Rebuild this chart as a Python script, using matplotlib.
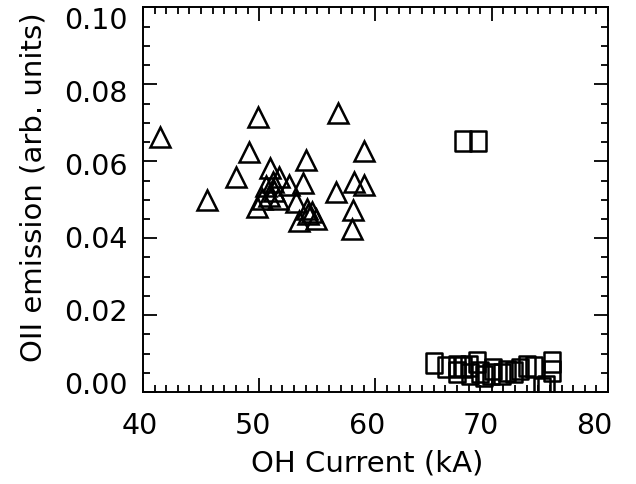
import matplotlib
matplotlib.use("Agg")
import matplotlib.pyplot as plt
import matplotlib.transforms as mtransforms
from matplotlib.path import Path
from matplotlib.ticker import MultipleLocator, FormatStrFormatter

plt.rcParams['font.family'] = ['DejaVu Sans']

# Triangles (one population)
tri_x = [41.46, 49.92, 56.75, 49.15, 59.04, 54.0, 48.0, 50.92, 51.7, 52.6,
         53.8, 45.5, 56.6, 58.15, 59.04, 58.1, 57.95, 49.8, 50.8, 51.2,
         50.6, 51.6, 53.2, 53.4, 54.1, 54.2, 54.9, 51.3, 50.2, 54.5]
tri_y = [0.0662, 0.0716, 0.0725, 0.0625, 0.0627, 0.0603, 0.0558, 0.0582, 0.0560, 0.0538,
         0.0543, 0.0499, 0.0521, 0.0547, 0.0538, 0.0474, 0.0425, 0.0482, 0.0510, 0.0545,
         0.0536, 0.0501, 0.0493, 0.0445, 0.0475, 0.0462, 0.0449, 0.0523, 0.0501, 0.0467]

# Squares (second population)
sq_x = [67.5, 68.8, 65.0, 67.0, 68.0, 68.7, 67.0, 69.0, 70.1, 71.3, 70.9, 69.9,
        73.0, 73.6, 75.2, 75.2, 74.7, 74.3, 66.1, 67.5, 68.1, 71.9, 72.4, 69.3]
sq_y = [0.0653, 0.0653, 0.0076, 0.0068, 0.0068, 0.0077, 0.0051, 0.0051, 0.0060, 0.0055,
        0.0047, 0.0047, 0.0068, 0.0064, 0.0077, 0.0055, 0.0016, 0.0010, 0.0064, 0.0064,
        0.0047, 0.0051, 0.0060, 0.0042]

xlabel = "OH Current (kA)"
ylabel = "OII emission (arb. units)"

fig = plt.figure(figsize=(6.36, 4.85), dpi=100)
ax = fig.add_axes([0.2248, 0.1897, 0.956 - 0.2248, 0.9825 - 0.1897])

rect = Path([(-0.4, -0.5), (0.4, -0.5), (0.4, 0.5), (-0.4, 0.5), (-0.4, -0.5)],
            [Path.MOVETO, Path.LINETO, Path.LINETO, Path.LINETO, Path.CLOSEPOLY])

ax.plot(tri_x, tri_y, linestyle='none', marker='^', markersize=14.0,
        markerfacecolor='none', markeredgecolor='black', markeredgewidth=1.8)
ax.plot(sq_x, sq_y, linestyle='none', marker=rect, markersize=14.5,
        markerfacecolor='none', markeredgecolor='black', markeredgewidth=1.8)

ax.set_xlim(40, 80)
ax.set_ylim(0.0, 0.10)
ax.xaxis.set_major_locator(MultipleLocator(10))
ax.xaxis.set_minor_locator(MultipleLocator(1))
ax.yaxis.set_major_locator(MultipleLocator(0.02))
ax.yaxis.set_minor_locator(MultipleLocator(0.005))
ax.yaxis.set_major_formatter(FormatStrFormatter('%.2f'))

ax.tick_params(which='both', direction='in', top=True, right=True, width=1.3,
               labelsize=20.5, colors='black')
ax.tick_params(axis='x', which='major', length=10, pad=14)
ax.tick_params(axis='y', which='major', length=10, pad=11)
ax.tick_params(which='minor', length=5)
for s in ax.spines.values():
    s.set_linewidth(1.4)

ax.set_xlabel(xlabel, fontsize=21)
ax.set_ylabel(ylabel, fontsize=21)
ax.xaxis.set_label_coords(0.482, -0.148)
ax.yaxis.set_label_coords(-0.205, 0.535)

# the reference's tick labels sit on a slightly compressed scale
fig.canvas.draw()
for t in ax.yaxis.get_major_ticks():
    v = t.get_loc()
    dy = -200.0 * (v - 0.05)
    off = mtransforms.ScaledTranslation(0, dy / 100.0, fig.dpi_scale_trans)
    t.label1.set_transform(t.label1.get_transform() + off)
for t in ax.xaxis.get_major_ticks():
    v = t.get_loc()
    dx = -3.0 - 0.28 * (v - 40)
    off = mtransforms.ScaledTranslation(dx / 100.0, 0, fig.dpi_scale_trans)
    t.label1.set_transform(t.label1.get_transform() + off)

fig.savefig("out.png", dpi=100)
